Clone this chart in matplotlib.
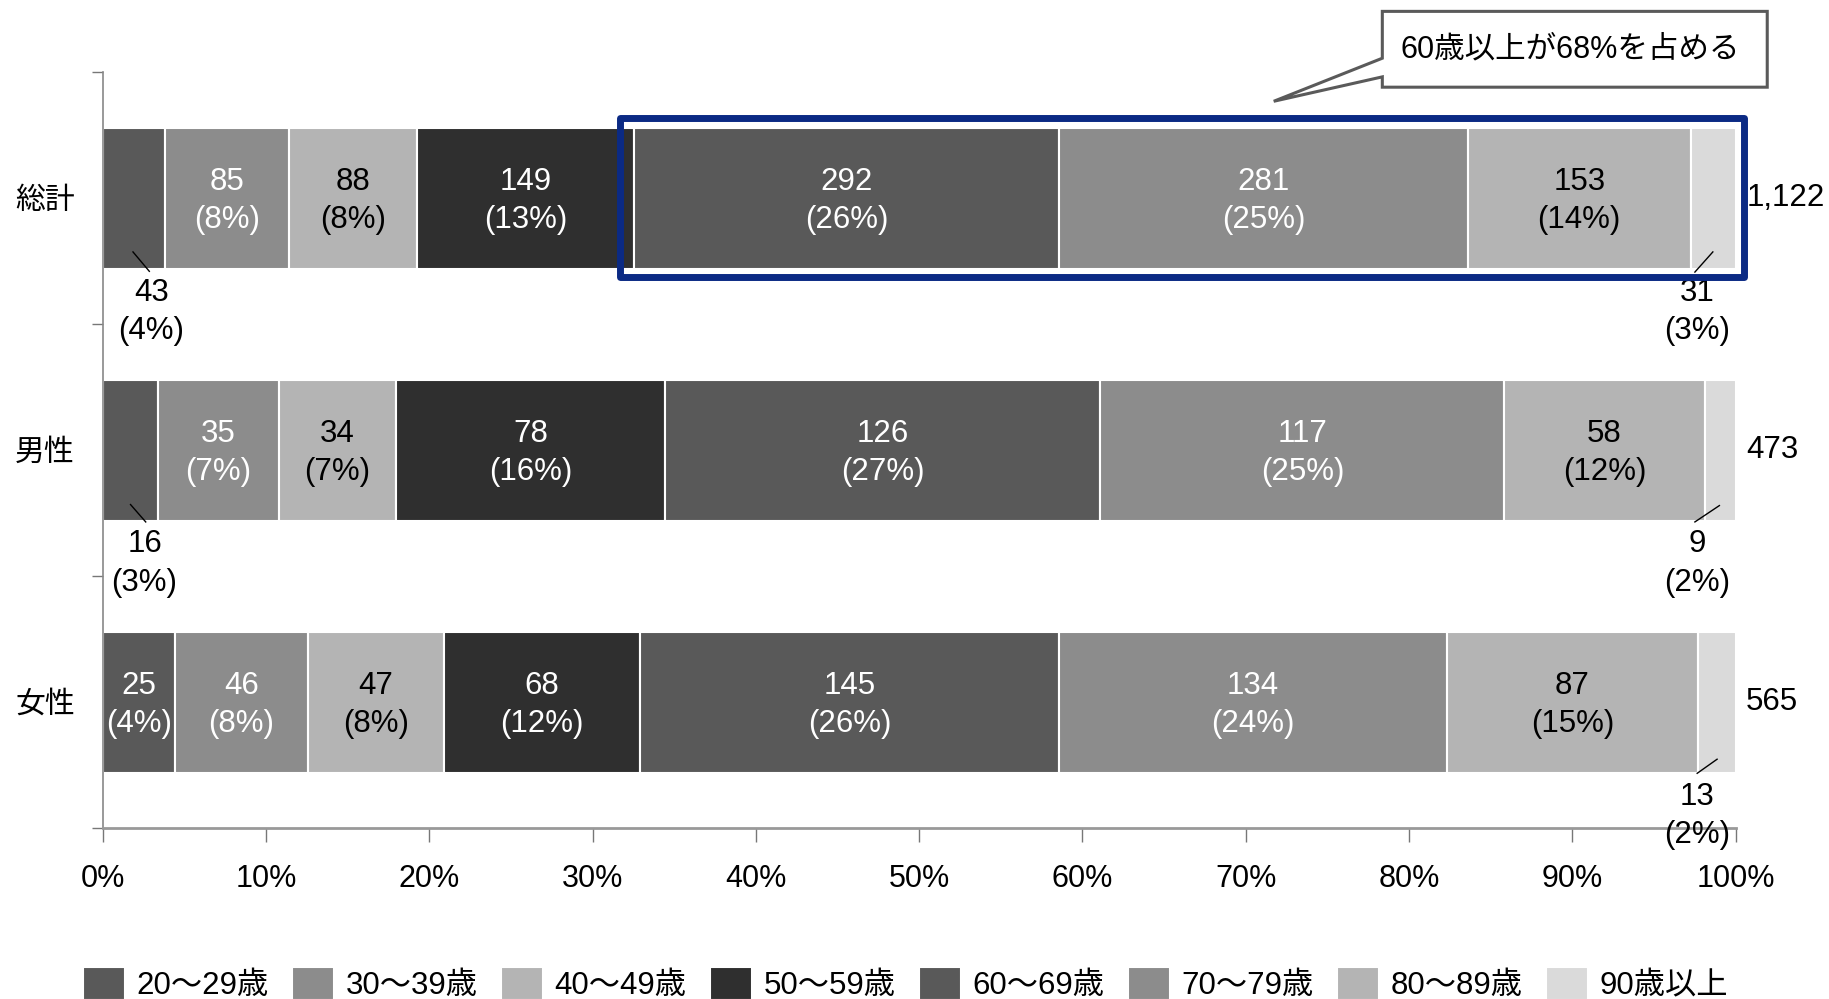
import matplotlib.pyplot as plt
import numpy as np
from matplotlib.path import Path
from matplotlib.patches import PathPatch, Rectangle

plt.rcParams['font.family'] = ['Liberation Sans', 'Noto Sans CJK JP', 'DejaVu Sans']

# data
groups = ['総計', '男性', '女性']
ages = ['20～29歳', '30～39歳', '40～49歳', '50～59歳',
        '60～69歳', '70～79歳', '80～89歳', '90歳以上']
total_all = [43, 85, 88, 149, 292, 281, 153, 31]
male = [16, 35, 34, 78, 126, 117, 58, 9]
female = [25, 46, 47, 68, 145, 134, 87, 13]
totals = ['1,122', '473', '565']
callout = '60歳以上が68%を占める'

colors = ['#595959', '#8c8c8c', '#b4b4b4', '#2f2f2f',
          '#595959', '#8c8c8c', '#b4b4b4', '#dadada']
txtcol = ['white', 'white', 'black', 'white', 'white', 'white', 'black', 'black']

counts = np.array([total_all, male, female], dtype=float)
shares = counts / counts.sum(axis=1, keepdims=True) * 100

FS = 22.5

fig = plt.figure(figsize=(18.29, 9.99), dpi=100)
ax = fig.add_axes([0.0561, 0.1712, 0.8929, 0.7564])

y = np.arange(len(groups))
left = np.zeros(len(groups))
for j in range(len(ages)):
    ax.barh(y, shares[:, j], left=left, height=0.56, color=colors[j],
            edgecolor='white', linewidth=1.5, label=ages[j], zorder=2)
    for i in range(len(groups)):
        lab = '%d\n(%d%%)' % (counts[i, j], round(shares[i, j]))
        if shares[i, j] >= 4.2 and j < 7:
            ax.text(left[i] + shares[i, j] / 2, y[i] + 0.01, lab, ha='center',
                    va='center', color=txtcol[j], fontsize=FS, linespacing=1.35,
                    zorder=4)
    left += shares[:, j]

# small segments labelled outside with leader lines
outside = [(0, 0, 3.0, 0.45, (1.86, 0.213), (2.86, 0.29)),
           (0, 7, 97.64, 0.45, (98.6, 0.213), (97.5, 0.293)),
           (1, 0, 2.57, 1.45, (1.71, 1.216), (2.64, 1.285)),
           (1, 7, 97.64, 1.45, (99.0, 1.22), (97.5, 1.285)),
           (2, 7, 97.64, 2.452, (98.86, 2.227), (97.64, 2.283))]
for i, j, tx, ty, p0, p1 in outside:
    ax.text(tx, ty, '%d\n(%d%%)' % (counts[i, j], round(shares[i, j])),
            ha='center', va='center', fontsize=FS, linespacing=1.35, zorder=4,
            clip_on=False)
    ax.plot([p0[0], p1[0]], [p0[1], p1[1]], color='black', lw=1, zorder=4)

for i in range(len(groups)):
    ax.text(100.64, y[i], totals[i], ha='left', va='center', fontsize=FS,
            clip_on=False)

# highlight box around 60+
ax.add_patch(Rectangle((31.71, -0.32), 100.5 - 31.71, 0.631, fill=False,
                       edgecolor='#0b2a84', lw=5, zorder=5, clip_on=False,
                       joinstyle='round'))

# callout
x0, x1, yt, yb = 78.36, 101.93, -0.742, -0.441
verts = [(x0, yt), (x1, yt), (x1, yb), (x0, yb), (x0, -0.482),
         (71.71, -0.385), (x0, -0.556), (x0, yt)]
codes = [Path.MOVETO] + [Path.LINETO] * 6 + [Path.CLOSEPOLY]
ax.add_patch(PathPatch(Path(verts, codes), facecolor='white', edgecolor='#5a5a5a',
                       lw=2.2, clip_on=False, zorder=6))
ax.text((x0 + x1) / 2 - 0.3, (yt + yb) / 2, callout, ha='center', va='center',
        fontsize=22, zorder=7, clip_on=False)

ax.set_xlim(0, 100)
ax.set_ylim(2.5, -0.5)
ax.set_xticks(np.arange(0, 101, 10))
ax.set_xticklabels(['%d%%' % v for v in range(0, 101, 10)])
ax.tick_params(axis='x', direction='out', length=10, width=1, color='#777777',
               pad=16, labelsize=22)
ax.set_yticks(y)
ax.set_yticklabels(groups)
ax.tick_params(axis='y', which='major', length=0, pad=20, labelsize=21.5)
ax.set_yticks([-0.5, 0.5, 1.5, 2.5], minor=True)
ax.tick_params(axis='y', which='minor', direction='out', length=8, width=1,
               color='#777777')
for s in ['top', 'right']:
    ax.spines[s].set_visible(False)
ax.spines['left'].set_color('#888888')
ax.spines['left'].set_linewidth(1.2)
ax.spines['bottom'].set_color('#999999')
ax.spines['bottom'].set_linewidth(2)

fig.legend(loc='center', bbox_to_anchor=(0.495, 0.015), ncol=8, frameon=False,
           fontsize=22.5, handlelength=1.34, handleheight=1.25, handletextpad=0.37,
           columnspacing=0.75, borderaxespad=0)

fig.savefig('out.png', dpi=100)
